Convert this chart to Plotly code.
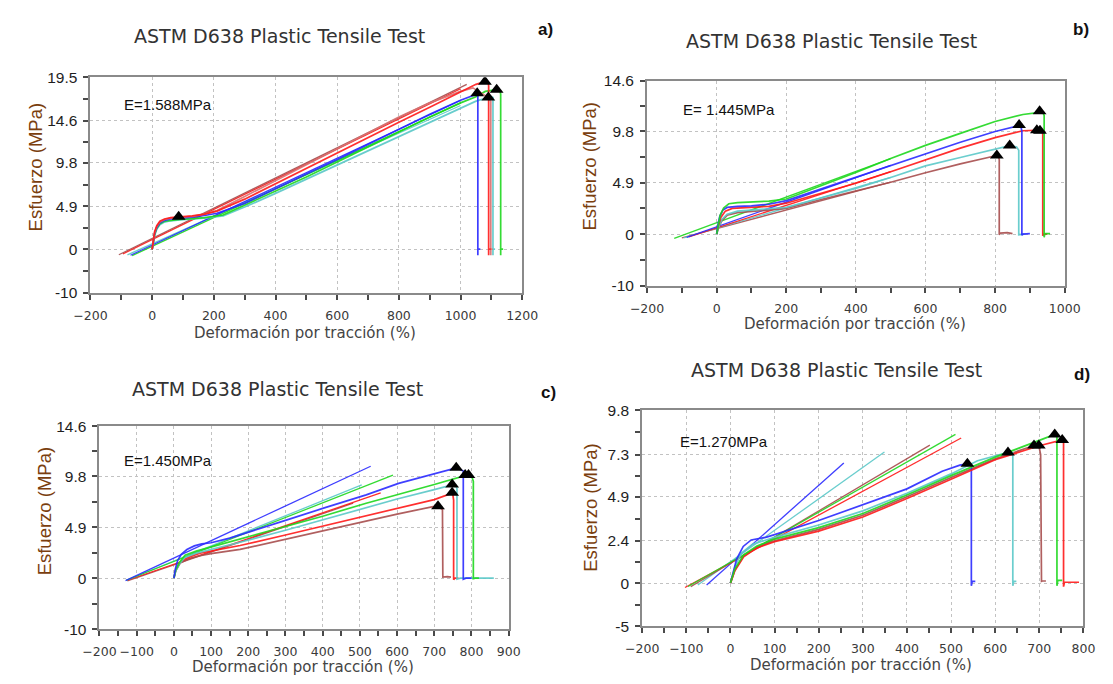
import plotly.graph_objects as go

W, H = 1113, 684

# ---------------- colours ----------------
BLUE = "#2b2bff"
RED = "#ff1a1a"
GREEN = "#1fd81f"
CYAN = "#5cc9c9"
BROWN = "#a84e4e"
ROSE = "#d97272"

TITLE = "ASTM D638 Plastic Tensile Test"
X_TITLE = "Deformación por tracción (%)"
Y_TITLE = "Esfuerzo (MPa)"

# ================= panel a =================
A_BLUE_X = [0, 3, 8, 15, 25, 40, 60, 90, 130, 170, 210, 300, 400, 500, 600, 700, 800, 900, 1000, 1050, 1056, 1056, 1056, 1064]
A_BLUE_Y = [0, 0.8, 1.8, 2.5, 3.0, 3.3, 3.45, 3.55, 3.65, 3.85, 4.1, 5.2, 6.9, 8.55, 10.2, 11.9, 13.6, 15.3, 16.9, 17.55, 17.5, -0.65, 0.05, 0.05]
A_RED_X = [0, 3, 8, 15, 25, 40, 60, 90, 130, 170, 210, 300, 400, 500, 600, 700, 800, 900, 1000, 1050, 1079, 1090, 1091, 1091, 1091, 1098]
A_RED_Y = [0, 0.9, 2.0, 2.7, 3.2, 3.45, 3.6, 3.7, 3.8, 4.0, 4.35, 5.7, 7.45, 9.2, 10.95, 12.7, 14.4, 16.1, 17.8, 18.7, 19.0, 18.9, 18.5, -0.65, 0.05, 0.05]
A_ROSE_X = [0, 3, 8, 15, 25, 40, 60, 90, 130, 170, 210, 300, 400, 500, 600, 700, 800, 900, 1000, 1040, 1070, 1090, 1098, 1098, 1098, 1104]
A_ROSE_Y = [0, 0.85, 1.9, 2.6, 3.1, 3.4, 3.55, 3.65, 3.75, 4.0, 4.4, 6.0, 7.8, 9.6, 11.4, 13.2, 15.0, 16.6, 17.9, 18.3, 17.6, 17.2, 16.8, -0.65, 0.05, 0.05]
A_CYAN_X = [0, 3, 8, 15, 25, 40, 60, 90, 130, 170, 230, 300, 400, 500, 600, 700, 800, 900, 1000, 1050, 1100, 1105, 1105, 1105, 1112]
A_CYAN_Y = [0, 0.7, 1.6, 2.3, 2.8, 3.1, 3.25, 3.35, 3.45, 3.55, 3.8, 4.8, 6.35, 7.95, 9.55, 11.15, 12.75, 14.4, 16.0, 16.8, 17.3, 17.2, -0.65, 0.05, 0.05]
A_GREEN_X = [0, 3, 8, 15, 25, 40, 60, 90, 130, 170, 230, 300, 400, 500, 600, 700, 800, 900, 1000, 1050, 1080, 1117, 1128, 1130, 1130, 1130, 1138]
A_GREEN_Y = [0, 0.75, 1.7, 2.4, 2.9, 3.2, 3.3, 3.4, 3.5, 3.6, 3.9, 5.0, 6.6, 8.2, 9.9, 11.6, 13.3, 15.0, 16.6, 17.3, 17.9, 18.1, 17.9, 17.6, -0.65, 0.05, 0.05]

A_FIT_BROWN_X = [-108, 1020]
A_FIT_BROWN_Y = [-0.6, 18.7]
A_FIT_RED_X = [-95, 1000]
A_FIT_RED_Y = [-0.5, 18.2]
A_FIT_CYAN_X = [-80, 1000]
A_FIT_CYAN_Y = [-0.6, 16.3]
A_FIT_BLUE_X = [-70, 1000]
A_FIT_BLUE_Y = [-0.65, 16.9]
A_FIT_GREEN_X = [-65, 1000]
A_FIT_GREEN_Y = [-0.7, 16.6]

A_PEAK_X = [86, 1054, 1079, 1090, 1117]
A_PEAK_Y = [3.7, 17.7, 19.0, 17.2, 18.1]

A_YTICKS = [-4.9, 0, 4.9, 9.8, 14.6, 19.5]
A_YTEXT = ["-10", "0", "4.9", "9.8", "14.6", "19.5"]
A_MODULUS = "E=1.588MPa"

# ================= panel b =================
B_GREEN_X = [0, 4, 10, 20, 35, 60, 100, 150, 200, 300, 400, 500, 600, 700, 800, 880, 928, 938, 941, 941, 943, 958]
B_GREEN_Y = [0, 0.8, 1.8, 2.5, 2.9, 3.0, 3.05, 3.15, 3.35, 4.6, 5.87, 7.2, 8.46, 9.6, 10.73, 11.4, 11.6, 11.55, 11.3, -0.3, 0.05, 0.05]
B_BLUE_X = [0, 3, 9, 18, 30, 60, 100, 150, 200, 300, 400, 500, 600, 700, 800, 869, 874, 877, 877, 880, 900]
B_BLUE_Y = [0, 0.8, 1.7, 2.3, 2.55, 2.65, 2.7, 2.85, 3.2, 4.3, 5.4, 6.55, 7.67, 8.75, 9.78, 10.35, 10.3, 9.8, -0.1, 0.0, 0.05]
B_RED_X = [0, 4, 12, 25, 45, 100, 150, 200, 300, 400, 500, 600, 700, 800, 880, 935, 937, 937, 940, 950]
B_RED_Y = [0, 0.7, 1.6, 2.2, 2.45, 2.55, 2.65, 2.95, 3.9, 4.85, 5.95, 7.1, 8.2, 9.2, 9.85, 9.9, 9.5, -0.15, 0.0, 0.0]
B_CYAN_X = [0, 5, 15, 30, 60, 120, 200, 300, 400, 500, 600, 700, 800, 842, 862, 868, 868, 875, 885]
B_CYAN_Y = [0, 0.6, 1.4, 1.9, 2.2, 2.35, 2.55, 3.45, 4.35, 5.4, 6.5, 7.3, 8.1, 8.43, 8.3, 8.0, -0.05, 0.0, 0.0]
B_BROWN_X = [0, 5, 15, 30, 60, 120, 200, 300, 400, 500, 600, 700, 780, 805, 810, 812, 812, 815, 835, 850]
B_BROWN_Y = [0, 0.6, 1.3, 1.8, 2.05, 2.2, 2.45, 3.3, 4.1, 4.95, 5.85, 6.7, 7.3, 7.5, 7.4, 7.1, -0.05, 0.1, 0.15, 0.05]

B_FIT_GREEN_X = [-122, 500]
B_FIT_GREEN_Y = [-0.4, 7.2]
B_FIT_BLUE_X = [-86, 500]
B_FIT_BLUE_Y = [-0.3, 6.55]
B_FIT_RED_X = [-80, 500]
B_FIT_RED_Y = [-0.25, 5.95]
B_FIT_CYAN_X = [-95, 500]
B_FIT_CYAN_Y = [-0.35, 5.4]
B_FIT_BROWN_X = [-100, 500]
B_FIT_BROWN_Y = [-0.35, 4.95]

B_PEAK_X = [928, 869, 920, 929, 842, 805]
B_PEAK_Y = [11.7, 10.4, 9.9, 9.85, 8.45, 7.5]

B_YTICKS = [-4.9, 0, 4.9, 9.8, 14.6]
B_YTEXT = ["-10", "0", "4.9", "9.8", "14.6"]
B_MODULUS = "E= 1.445MPa"

# ================= panel c =================
C_BLUE_X = [0, 4, 10, 20, 35, 55, 75, 100, 150, 200, 300, 400, 517, 604, 700, 759, 778, 778, 785, 800]
C_BLUE_Y = [0, 0.9, 1.7, 2.3, 2.75, 3.1, 3.3, 3.4, 3.85, 4.4, 5.55, 6.7, 8.0, 9.1, 10.0, 10.6, 10.3, -0.1, 0.0, 0.0]
C_GREEN_X = [0, 5, 15, 30, 60, 100, 178, 300, 400, 517, 600, 700, 787, 800, 805, 805, 810, 820]
C_GREEN_Y = [0, 0.8, 1.5, 2.2, 2.6, 3.0, 3.77, 4.95, 5.95, 7.2, 8.0, 9.0, 9.9, 9.85, 9.3, -0.05, 0.0, 0.0]
C_CYAN_X = [0, 5, 15, 30, 60, 100, 178, 300, 400, 517, 600, 700, 748, 758, 761, 761, 770, 860]
C_CYAN_Y = [0, 0.7, 1.4, 2.0, 2.4, 2.75, 3.45, 4.6, 5.6, 6.75, 7.6, 8.5, 8.96, 8.9, 8.6, -0.1, 0.0, 0.0]
C_RED_X = [0, 5, 17, 39, 70, 100, 178, 300, 400, 517, 600, 700, 748, 750, 752, 752, 755, 765]
C_RED_Y = [0, 0.8, 1.57, 2.0, 2.4, 2.6, 3.14, 4.15, 5.0, 5.97, 6.7, 7.55, 8.17, 8.0, 7.5, -0.15, 0.0, 0.0]
C_BROWN_X = [0, 5, 17, 39, 70, 100, 178, 300, 400, 517, 600, 700, 710, 722, 723, 735, 745]
C_BROWN_Y = [0, 0.7, 1.45, 1.85, 2.15, 2.35, 2.76, 3.75, 4.6, 5.5, 6.15, 6.9, 6.9, 6.6, 0.1, 0.15, 0.1]

C_FIT_BLUE_X = [-130, 529]
C_FIT_BLUE_Y = [-0.23, 10.75]
C_FIT_GREEN_X = [-128, 589]
C_FIT_GREEN_Y = [-0.2, 9.9]
C_FIT_CYAN_X = [-128, 505]
C_FIT_CYAN_Y = [-0.2, 8.96]
C_FIT_RED_X = [-125, 556]
C_FIT_RED_Y = [-0.2, 8.2]
C_FIT_BROWN_X = [-125, 482]
C_FIT_BROWN_Y = [-0.25, 7.2]

C_PEAK_X = [759, 783, 792, 748, 748, 710]
C_PEAK_Y = [10.6, 9.9, 9.9, 9.0, 8.2, 6.9]

C_YTICKS = [-4.9, 0, 4.9, 9.8, 14.6]
C_YTEXT = ["-10", "0", "4.9", "9.8", "14.6"]
C_MODULUS = "E=1.450MPa"

# ================= panel d =================
D_BLUE_X = [0, 7, 14, 29, 47, 80, 100, 200, 300, 400, 480, 520, 537, 546, 546, 548, 555]
D_BLUE_Y = [0, 0.78, 1.37, 2.08, 2.45, 2.6, 2.75, 3.55, 4.45, 5.35, 6.35, 6.7, 6.77, 6.7, -0.15, 0.1, 0.1]
D_CYAN_X = [0, 10, 25, 50, 100, 200, 300, 400, 500, 560, 629, 640, 640, 642, 648]
D_CYAN_Y = [0, 0.9, 1.7, 2.2, 2.6, 3.3, 4.1, 5.1, 6.2, 6.95, 7.42, 7.4, -0.15, 0.1, 0.1]
D_GREEN_X = [0, 10, 30, 60, 100, 200, 300, 400, 500, 600, 700, 735, 740, 740, 742, 752]
D_GREEN_Y = [0, 0.8, 1.6, 2.1, 2.5, 3.15, 3.95, 5.0, 6.1, 7.15, 8.1, 8.44, 8.4, -0.15, 0.15, 0.15]
D_RED_X = [0, 10, 30, 60, 100, 200, 300, 400, 500, 600, 700, 752, 755, 755, 757, 790]
D_RED_Y = [0, 0.7, 1.5, 2.0, 2.35, 2.95, 3.75, 4.8, 5.9, 7.0, 7.8, 8.13, 8.1, -0.2, 0.05, 0.05]
D_BROWN_X = [0, 10, 30, 60, 100, 200, 300, 400, 500, 600, 688, 699, 703, 705, 707, 715]
D_BROWN_Y = [0, 0.75, 1.55, 2.05, 2.4, 3.05, 3.85, 4.9, 6.0, 7.05, 7.81, 7.81, 7.3, 0.1, 0.12, 0.12]

D_FIT_RED_X = [-103, 523]
D_FIT_RED_Y = [-0.25, 8.24]
D_FIT_GREEN_X = [-96, 510]
D_FIT_GREEN_Y = [-0.19, 8.44]
D_FIT_CYAN_X = [-74, 349]
D_FIT_CYAN_Y = [-0.11, 7.44]
D_FIT_BLUE_X = [-54, 257]
D_FIT_BLUE_Y = [-0.11, 6.82]
D_FIT_BROWN_X = [-90, 452]
D_FIT_BROWN_Y = [-0.2, 7.83]

D_PEAK_X = [537, 629, 688, 699, 735, 752]
D_PEAK_Y = [6.77, 7.42, 7.81, 7.81, 8.44, 8.13]

D_YTICKS = [-2.45, 0, 2.4, 4.9, 7.3, 9.8]
D_YTEXT = ["-5", "0", "2.4", "4.9", "7.3", "9.8"]
D_MODULUS = "E=1.270MPa"


# ---------------- helpers ----------------
def fx(px):
    return px / W


def fy(py):
    return 1 - py / H


panels = [
    dict(key="", label="a)",
         box=(75.7, 70, 520.7, 291), xr=[-200, 1200], xdt=200, xminor=100,
         yr=[-4.9, 19.5], yt=A_YTICKS, ytext=A_YTEXT, mod=A_MODULUS,
         curves=[(A_CYAN_X, A_CYAN_Y, CYAN), (A_GREEN_X, A_GREEN_Y, GREEN),
                 (A_BLUE_X, A_BLUE_Y, BLUE), (A_ROSE_X, A_ROSE_Y, ROSE),
                 (A_RED_X, A_RED_Y, RED)],
         fits=[(A_FIT_CYAN_X, A_FIT_CYAN_Y, CYAN), (A_FIT_GREEN_X, A_FIT_GREEN_Y, GREEN),
               (A_FIT_BLUE_X, A_FIT_BLUE_Y, BLUE), (A_FIT_RED_X, A_FIT_RED_Y, RED),
               (A_FIT_BROWN_X, A_FIT_BROWN_Y, BROWN)],
         peaks=(A_PEAK_X, A_PEAK_Y),
         title_xy=(271, 28), letter_xy=(545, 21), xt_xy=(297, 332), yt_xy=(20, 162),
         mod_xy=(108, 98)),
    dict(key="2", label="b)",
         box=(649.3, 73.7, 1079.7, 283.7), xr=[-200, 1000], xdt=200, xminor=100,
         yr=[-4.9, 14.6], yt=B_YTICKS, ytext=B_YTEXT, mod=B_MODULUS,
         curves=[(B_BROWN_X, B_BROWN_Y, BROWN), (B_CYAN_X, B_CYAN_Y, CYAN),
                 (B_RED_X, B_RED_Y, RED), (B_BLUE_X, B_BLUE_Y, BLUE),
                 (B_GREEN_X, B_GREEN_Y, GREEN)],
         fits=[(B_FIT_BROWN_X, B_FIT_BROWN_Y, BROWN), (B_FIT_CYAN_X, B_FIT_CYAN_Y, CYAN),
               (B_FIT_RED_X, B_FIT_RED_Y, RED), (B_FIT_BLUE_X, B_FIT_BLUE_Y, BLUE),
               (B_FIT_GREEN_X, B_FIT_GREEN_Y, GREEN)],
         peaks=(B_PEAK_X, B_PEAK_Y),
         title_xy=(839, 33), letter_xy=(1097, 21), xt_xy=(864, 323), yt_xy=(591, 161),
         mod_xy=(684, 103)),
    dict(key="3", label="c)",
         box=(85, 427.8, 506.7, 636), xr=[-200, 900], xdt=100, xminor=50,
         yr=[-4.9, 14.6], yt=C_YTICKS, ytext=C_YTEXT, mod=C_MODULUS,
         curves=[(C_BROWN_X, C_BROWN_Y, BROWN), (C_RED_X, C_RED_Y, RED),
                 (C_CYAN_X, C_CYAN_Y, CYAN), (C_GREEN_X, C_GREEN_Y, GREEN),
                 (C_BLUE_X, C_BLUE_Y, BLUE)],
         fits=[(C_FIT_BROWN_X, C_FIT_BROWN_Y, BROWN), (C_FIT_RED_X, C_FIT_RED_Y, RED),
               (C_FIT_CYAN_X, C_FIT_CYAN_Y, CYAN), (C_FIT_GREEN_X, C_FIT_GREEN_Y, GREEN),
               (C_FIT_BLUE_X, C_FIT_BLUE_Y, BLUE)],
         peaks=(C_PEAK_X, C_PEAK_Y),
         title_xy=(268, 390), letter_xy=(548, 393), xt_xy=(295, 675), yt_xy=(28, 515),
         mod_xy=(108, 463)),
    dict(key="4", label="d)",
         box=(644.3, 411.7, 1099, 633), xr=[-200, 800], xdt=100, xminor=50,
         yr=[-2.45, 9.8], yt=D_YTICKS, ytext=D_YTEXT, mod=D_MODULUS,
         curves=[(D_BROWN_X, D_BROWN_Y, BROWN), (D_CYAN_X, D_CYAN_Y, CYAN),
                 (D_BLUE_X, D_BLUE_Y, BLUE), (D_RED_X, D_RED_Y, RED),
                 (D_GREEN_X, D_GREEN_Y, GREEN)],
         fits=[(D_FIT_BLUE_X, D_FIT_BLUE_Y, BLUE), (D_FIT_CYAN_X, D_FIT_CYAN_Y, CYAN),
               (D_FIT_BROWN_X, D_FIT_BROWN_Y, BROWN), (D_FIT_RED_X, D_FIT_RED_Y, RED),
               (D_FIT_GREEN_X, D_FIT_GREEN_Y, GREEN)],
         peaks=(D_PEAK_X, D_PEAK_Y),
         title_xy=(845, 370), letter_xy=(1098, 375), xt_xy=(870, 673), yt_xy=(591, 511),
         mod_xy=(681, 444)),
]

fig = go.Figure()
annotations = []
layout_axes = {}

FRAME = "#8a8a8a"
TICK = "#4a4a4a"
GRID = "#c2c2c2"

for p in panels:
    k = p["key"]
    xref, yref = "x" + k, "y" + k
    x0, y0, x1, y1 = p["box"]

    for xs, ys, col in p["fits"]:
        fig.add_trace(go.Scatter(x=xs, y=ys, mode="lines", xaxis=xref, yaxis=yref,
                                 line=dict(color=col, width=1.3), opacity=0.9,
                                 showlegend=False, hoverinfo="skip"))
    for xs, ys, col in p["curves"]:
        fig.add_trace(go.Scatter(x=xs, y=ys, mode="lines", xaxis=xref, yaxis=yref,
                                 line=dict(color=col, width=1.7), opacity=0.9,
                                 showlegend=False, hoverinfo="skip"))
    px_, py_ = p["peaks"]
    fig.add_trace(go.Scatter(x=px_, y=py_, mode="markers", xaxis=xref, yaxis=yref,
                             marker=dict(symbol="triangle-up", size=12, color="black"),
                             showlegend=False, hoverinfo="skip"))

    yt = p["yt"]
    ymid = [(a + b) / 2 for a, b in zip(yt[:-1], yt[1:])]

    layout_axes["xaxis" + k] = dict(
        domain=[fx(x0), fx(x1)], range=p["xr"], anchor=yref,
        tickmode="linear", tick0=-200, dtick=p["xdt"],
        ticks="outside", ticklen=5, tickwidth=1.5, tickcolor=TICK,
        showline=True, linecolor=FRAME, linewidth=2, mirror=True,
        showgrid=True, gridcolor=GRID, griddash="dot", gridwidth=1,
        zeroline=False, ticklabelstandoff=5,
        tickfont=dict(family="DejaVu Sans", size=12.5, color="#3a3a3a"),
        minor=dict(ticks="outside", tick0=-200, dtick=p["xminor"], ticklen=5,
                   tickwidth=1.5, tickcolor=TICK, showgrid=False),
    )
    layout_axes["yaxis" + k] = dict(
        domain=[fy(y1), fy(y0)], range=p["yr"], anchor=xref,
        tickmode="array", tickvals=yt, ticktext=p["ytext"],
        ticks="outside", ticklen=5, tickwidth=1.5, tickcolor=TICK,
        showline=True, linecolor=FRAME, linewidth=2, mirror=True,
        showgrid=True, gridcolor=GRID, griddash="dot", gridwidth=1,
        zeroline=False, ticklabelstandoff=3,
        tickfont=dict(family="Liberation Sans, Arial", size=15.5, color="#1e1e1e"),
        minor=dict(ticks="outside", tickmode="array", tickvals=ymid, ticklen=5,
                   tickwidth=1.5, tickcolor=TICK, showgrid=False),
    )

    tx, ty = p["title_xy"]
    annotations.append(dict(text=TITLE, x=fx(tx), y=fy(ty), xref="paper", yref="paper",
                            xanchor="center", yanchor="middle", showarrow=False,
                            font=dict(family="DejaVu Sans", size=19, color="#333333")))
    lx, ly = p["letter_xy"]
    annotations.append(dict(text="<b>" + p["label"] + "</b>", x=fx(lx), y=fy(ly),
                            xref="paper", yref="paper", xanchor="center", yanchor="middle",
                            showarrow=False,
                            font=dict(family="Liberation Sans, Arial", size=17, color="#111111")))
    xx, xy = p["xt_xy"]
    annotations.append(dict(text=X_TITLE, x=fx(xx), y=fy(xy), xref="paper", yref="paper",
                            xanchor="center", yanchor="middle", showarrow=False,
                            font=dict(family="DejaVu Sans", size=15, color="#444444")))
    yx, yy = p["yt_xy"]
    annotations.append(dict(text=Y_TITLE, x=fx(yx), y=fy(yy), xref="paper", yref="paper",
                            xanchor="center", yanchor="middle", showarrow=False, textangle=-90,
                            font=dict(family="Liberation Sans, Arial", size=18.5, color="#7a3e0e")))
    mx, my = p["mod_xy"]
    annotations.append(dict(text=p["mod"], x=fx(mx), y=fy(my), xref="paper", yref="paper",
                            xanchor="left", yanchor="middle", showarrow=False,
                            font=dict(family="Liberation Sans, Arial", size=15, color="#111111")))

fig.update_layout(
    width=W, height=H,
    margin=dict(l=0, r=0, t=0, b=0),
    paper_bgcolor="white", plot_bgcolor="white",
    annotations=annotations,
    **layout_axes,
)

fig.write_html("out.html", config={"displayModeBar": False})
